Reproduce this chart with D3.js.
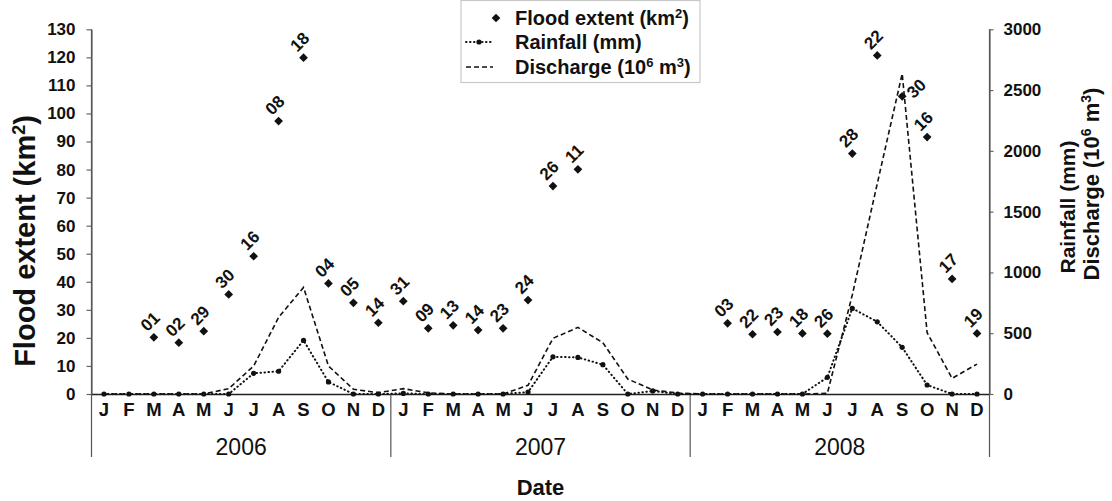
<!DOCTYPE html>
<html>
<head>
<meta charset="utf-8">
<script src="https://cdn.jsdelivr.net/npm/d3@7"></script>
<style>
    body { margin: 0; background: #fff; }
    svg { display: block; font-family: 'Liberation Sans', Arial, sans-serif; }
</style>
</head>
<body>
<script>
var monthLetters = ['J', 'F', 'M', 'A', 'M', 'J', 'J', 'A', 'S', 'O', 'N', 'D'];
var years = ['2006', '2007', '2008'];

// km2, one value per month, null = no image that month
var floodExtent = [
    null, null, 20.2, 18.3, 22.4, 35.5, 49.1, 97.3, 119.9, 39.4, 32.5, 25.4,
    33.1, 23.4, 24.5, 22.8, 23.4, 33.5, 74.1, 80.1, null, null, null, null,
    null, 25.2, 21.3, 22.1, 21.6, 21.5, 85.7, 120.7, 106.1, 91.6, 41.0, 21.6
];
// day of the image in that month
var floodDays = [
    null, null, '01', '02', '29', '30', '16', '08', '18', '04', '05', '14',
    '31', '09', '13', '14', '23', '24', '26', '11', null, null, null, null,
    null, '03', '22', '23', '18', '26', '28', '22', '30', '16', '17', '19'
];
var rainfall = [
    0, 0, 0, 0, 0, 0, 170, 187, 441, 99, 0, 0,
    5, 0, 0, 0, 0, 16, 306, 301, 241, 0, 25, 0,
    0, 0, 0, 0, 0, 137, 704, 594, 384, 74, 0, 0
];
var discharge = [
    0, 0, 0, 0, 0, 44, 230, 630, 877, 230, 39, 11,
    44, 10, 0, 0, 0, 71, 458, 548, 422, 123, 33, 8,
    0, 0, 0, 0, 0, 5, 815, 1730, 2635, 504, 129, 246
];
var floodTicks = [0, 10, 20, 30, 40, 50, 60, 70, 80, 90, 100, 110, 120, 130];
var flowTicks = [0, 500, 1000, 1500, 2000, 2500, 3000];

var width = 1112, height = 501;
var plotLeft = 91.5, plotRight = 989.5, plotTop = 29.3, base = 394, sepBottom = 457;

var svg = d3.select('body').append('svg')
    .attr('width', width)
    .attr('height', height);

var months = d3.range(years.length * 12);
var x = d3.scaleBand().domain(months).range([plotLeft, plotRight]);
var yFlood = d3.scaleLinear().domain([0, 130]).range([base, plotTop]);
var yFlow = d3.scaleLinear().domain([0, 3000]).range([base, plotTop]);
var xYear = d3.scaleLinear().domain([0, years.length]).range([plotLeft, plotRight]);

function cx(i) {
    return x(i) + x.bandwidth() / 2;
}

function styleAxis(g, color, size) {
    g.select('.domain').attr('stroke', color).attr('stroke-width', 1.2);
    g.selectAll('.tick line').attr('stroke', color).attr('stroke-width', 1.2);
    g.selectAll('.tick text')
        .attr('fill', '#111')
        .style('font-size', size + 'px')
        .style('font-weight', 'bold')
        .style('font-family', "'Liberation Sans', Arial, sans-serif");
}

// left axis
var gLeft = svg.append('g')
    .attr('transform', 'translate(' + plotLeft + ',0)')
    .call(d3.axisLeft(yFlood).tickValues(floodTicks).tickSize(5).tickSizeOuter(0).tickPadding(11));
styleAxis(gLeft, '#666', 17);

// right axis
var gRight = svg.append('g')
    .attr('transform', 'translate(' + plotRight + ',0)')
    .call(d3.axisRight(yFlow).tickValues(flowTicks).tickFormat(d3.format('d'))
        .tickSize(4).tickSizeOuter(0).tickPadding(10));
styleAxis(gRight, '#666', 17);

// month axis
var gBottom = svg.append('g')
    .attr('transform', 'translate(0,' + base + ')')
    .call(d3.axisBottom(x).tickSize(0).tickSizeOuter(0).tickPadding(9)
        .tickFormat(function(i) { return monthLetters[i % 12]; }));
styleAxis(gBottom, '#222', 18.5);
gBottom.select('.domain').attr('stroke-width', 1.3);

// year separators and labels
d3.range(years.length + 1).forEach(function(k) {
    svg.append('line')
        .attr('x1', xYear(k))
        .attr('x2', xYear(k))
        .attr('y1', k === 0 || k === years.length ? plotTop : base)
        .attr('y2', sepBottom)
        .attr('stroke', '#555')
        .attr('stroke-width', 1.2);
});
years.forEach(function(yr, k) {
    svg.append('text')
        .attr('x', xYear(k + 0.5))
        .attr('y', 455)
        .attr('text-anchor', 'middle')
        .style('font-size', '23px')
        .style('fill', '#111')
        .text(yr);
});

svg.append('text')
    .attr('x', (plotLeft + plotRight) / 2)
    .attr('y', 495)
    .attr('text-anchor', 'middle')
    .style('font-size', '22px')
    .style('font-weight', 'bold')
    .style('fill', '#111')
    .text('Date');

// axis titles
var leftTitle = svg.append('text')
    .attr('transform', 'translate(35,241) rotate(-90)')
    .attr('text-anchor', 'middle')
    .style('font-size', '29px')
    .style('font-weight', 'bold')
    .style('fill', '#111');
leftTitle.append('tspan').text('Flood extent (km');
leftTitle.append('tspan').attr('baseline-shift', 'super').style('font-size', '18px').text('2');
leftTitle.append('tspan').text(')');

svg.append('text')
    .attr('transform', 'translate(1075,207) rotate(-90)')
    .attr('text-anchor', 'middle')
    .style('font-size', '21px')
    .style('font-weight', 'bold')
    .style('fill', '#111')
    .text('Rainfall (mm)');

var rightTitle = svg.append('text')
    .attr('transform', 'translate(1099,184) rotate(-90)')
    .attr('text-anchor', 'middle')
    .style('font-size', '22px')
    .style('font-weight', 'bold')
    .style('fill', '#111');
rightTitle.append('tspan').text('Discharge (10');
rightTitle.append('tspan').attr('baseline-shift', 'super').style('font-size', '14px').text('6');
rightTitle.append('tspan').text(' m');
rightTitle.append('tspan').attr('baseline-shift', 'super').style('font-size', '14px').text('3');
rightTitle.append('tspan').text(')');

// discharge (dashed)
var flowLine = d3.line()
    .x(function(d, i) { return cx(i); })
    .y(function(d) { return yFlow(d); });

svg.append('path')
    .datum(discharge)
    .attr('d', flowLine)
    .attr('fill', 'none')
    .attr('stroke', '#111')
    .attr('stroke-width', 1.6)
    .attr('stroke-dasharray', '5,3');

// rainfall (dotted with markers)
svg.append('path')
    .datum(rainfall)
    .attr('d', flowLine)
    .attr('fill', 'none')
    .attr('stroke', '#111')
    .attr('stroke-width', 2)
    .attr('stroke-linecap', 'round')
    .attr('stroke-dasharray', '0.5,3.5');

svg.selectAll('.rain-dot')
    .data(rainfall)
    .enter().append('circle')
    .attr('class', 'rain-dot')
    .attr('cx', function(d, i) { return cx(i); })
    .attr('cy', function(d) { return yFlow(d); })
    .attr('r', 2.6)
    .attr('fill', '#111');

// flood extent diamonds and dates
var diamond = d3.symbol().type(d3.symbolSquare).size(38);
var floodPts = months.filter(function(i) { return floodExtent[i] !== null; });
var labelNudge = {32: [14, -8]};

svg.selectAll('.flood')
    .data(floodPts)
    .enter().append('path')
    .attr('class', 'flood')
    .attr('d', diamond)
    .attr('transform', function(i) {
        return 'translate(' + cx(i) + ',' + yFlood(floodExtent[i]) + ') rotate(45)';
    })
    .attr('fill', '#111');

svg.selectAll('.flood-label')
    .data(floodPts)
    .enter().append('text')
    .attr('class', 'flood-label')
    .attr('transform', function(i) {
        var n = labelNudge[i] || [-4, -16];
        return 'translate(' + (cx(i) + n[0]) + ',' + (yFlood(floodExtent[i]) + n[1]) + ') rotate(-45)';
    })
    .attr('text-anchor', 'middle')
    .attr('dy', '0.36em')
    .style('font-size', '17px')
    .style('font-weight', 'bold')
    .style('fill', '#111')
    .text(function(i) { return floodDays[i]; });

// legend
var lg = svg.append('g');
lg.append('rect')
    .attr('x', 461)
    .attr('y', 0.5)
    .attr('width', 239)
    .attr('height', 82)
    .attr('fill', '#fff')
    .attr('stroke', '#c8c8c8')
    .attr('stroke-width', 1.2);

var rows = [18, 42, 67];
lg.append('path')
    .attr('d', diamond)
    .attr('transform', 'translate(496,' + rows[0] + ') rotate(45)')
    .attr('fill', '#111');
lg.append('line')
    .attr('x1', 466).attr('x2', 493)
    .attr('y1', rows[1]).attr('y2', rows[1])
    .attr('stroke', '#111')
    .attr('stroke-width', 2)
    .attr('stroke-linecap', 'round')
    .attr('stroke-dasharray', '0.5,3.5');
lg.append('circle')
    .attr('cx', 479).attr('cy', rows[1]).attr('r', 2.6)
    .attr('fill', '#111');
lg.append('line')
    .attr('x1', 466).attr('x2', 493)
    .attr('y1', rows[2]).attr('y2', rows[2])
    .attr('stroke', '#111')
    .attr('stroke-width', 1.6)
    .attr('stroke-dasharray', '5,3');

function legendText(y) {
    return lg.append('text')
        .attr('x', 515)
        .attr('y', y + 7)
        .style('font-size', '20px')
        .style('font-weight', 'bold')
        .style('fill', '#111');
}
var t1 = legendText(rows[0]);
t1.append('tspan').text('Flood extent (km');
t1.append('tspan').attr('baseline-shift', 'super').style('font-size', '13px').text('2');
t1.append('tspan').text(')');
legendText(rows[1]).text('Rainfall (mm)');
var t3 = legendText(rows[2]);
t3.append('tspan').text('Discharge (10');
t3.append('tspan').attr('baseline-shift', 'super').style('font-size', '13px').text('6');
t3.append('tspan').text(' m');
t3.append('tspan').attr('baseline-shift', 'super').style('font-size', '13px').text('3');
t3.append('tspan').text(')');
</script>
</body>
</html>
